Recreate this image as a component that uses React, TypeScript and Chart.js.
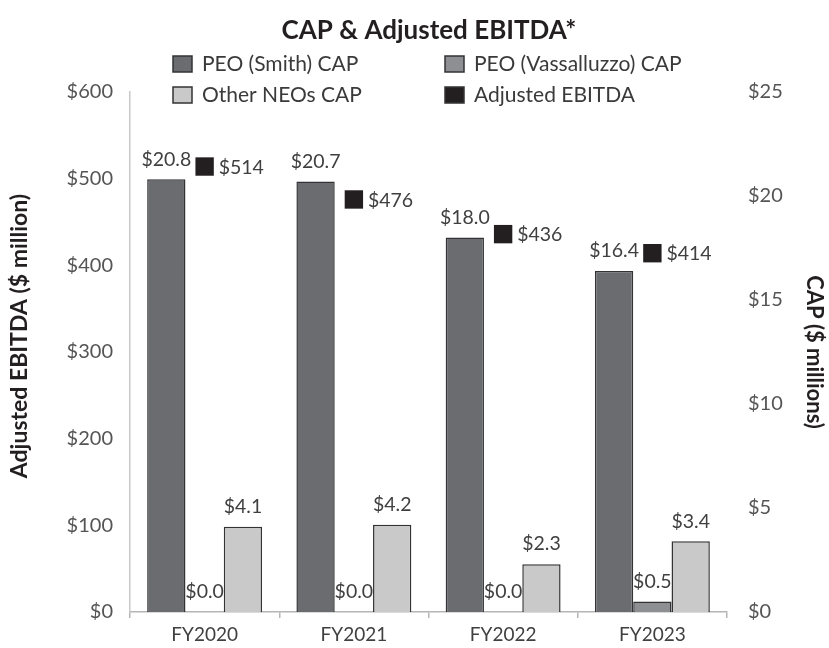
import React, { useEffect, useRef } from "react";
import { Chart, registerables } from "chart.js";

Chart.register(...registerables);

const FONT = "Lato, 'Open Sans', sans-serif";

const categories = ["FY2020", "FY2021", "FY2022", "FY2023"];
const smithCap = [20.8, 20.7, 18.0, 16.4];
const vassalluzzoCap = [0.0, 0.0, 0.0, 0.5];
const otherNeosCap = [4.1, 4.2, 2.3, 3.4];
const adjustedEbitda = [514, 476, 436, 414];

const chartTitle = "CAP & Adjusted EBITDA*";
const leftAxisTitle = "Adjusted EBITDA ($ million)";
const rightAxisTitle = "CAP ($ millions)";

const SMITH_COLOR = "#6b6c70";
const VASS_COLOR = "#8e8f92";
const OTHER_COLOR = "#c9c9ca";
const EBITDA_COLOR = "#231f20";
const BORDER = "#333335";

const legendItems = [
  { label: "PEO (Smith) CAP", color: SMITH_COLOR, col: 0, row: 0 },
  { label: "PEO (Vassalluzzo) CAP", color: VASS_COLOR, col: 1, row: 0 },
  { label: "Other NEOs CAP", color: OTHER_COLOR, col: 0, row: 1 },
  { label: "Adjusted EBITDA", color: EBITDA_COLOR, col: 1, row: 1 },
];

const headerPlugin = {
  id: "header",
  afterDraw(chart: any) {
    const ctx = chart.ctx;
    const area = chart.chartArea;
    ctx.save();
    ctx.fillStyle = "#231f20";
    ctx.font = `bold 26px ${FONT}`;
    ctx.textAlign = "center";
    ctx.textBaseline = "middle";
    ctx.fillText(chartTitle, 429, 31);

    // axis titles
    const midY = (area.top + area.bottom) / 2;
    ctx.font = `bold 23px ${FONT}`;
    ctx.save();
    ctx.translate(20, 336);
    ctx.rotate(-Math.PI / 2);
    ctx.fillText(leftAxisTitle, 0, 0);
    ctx.restore();
    ctx.font = `bold 22px ${FONT}`;
    ctx.save();
    ctx.translate(814, midY);
    ctx.rotate(Math.PI / 2);
    ctx.fillText(rightAxisTitle, 0, 0);
    ctx.restore();

    const colX = [173, 445];
    const rowY = [64, 95];
    ctx.font = `21px ${FONT}`;
    ctx.textAlign = "left";
    legendItems.forEach((it) => {
      const x = colX[it.col];
      const y = rowY[it.row];
      ctx.fillStyle = it.color;
      ctx.fillRect(x, y - 8, 19, 16);
      ctx.strokeStyle = BORDER;
      ctx.lineWidth = 1.5;
      ctx.strokeRect(x, y - 8, 19, 16);
      ctx.fillStyle = "#3a3a3a";
      ctx.fillText(it.label, x + 29, y);
    });
    ctx.restore();
  },
};

const labelPlugin = {
  id: "valueLabels",
  afterDatasetsDraw(chart: any) {
    const ctx = chart.ctx;
    ctx.save();
    ctx.font = `19.5px ${FONT}`;
    ctx.fillStyle = "#404040";
    ctx.textBaseline = "middle";
    chart.data.datasets.forEach((ds: any, i: number) => {
      const meta = chart.getDatasetMeta(i);
      meta.data.forEach((el: any, j: number) => {
        const v = ds.data[j];
        if (ds.type === "line") {
          ctx.textAlign = "left";
          ctx.fillText("$" + v, el.x + 14, el.y + 1);
        } else {
          ctx.textAlign = "center";
          ctx.fillText("$" + Number(v).toFixed(1), el.x, el.y - 20);
        }
      });
    });
    ctx.restore();
  },
};

export default function App() {
  const ref = useRef<HTMLCanvasElement | null>(null);
  useEffect(() => {
    if (!ref.current) return;
    const tickFont = { family: FONT, size: 20 };
    const chart = new Chart(ref.current, {
      type: "bar",
      data: {
        labels: categories,
        datasets: [
          {
            type: "line",
            label: "Adjusted EBITDA",
            data: adjustedEbitda,
            yAxisID: "y",
            showLine: false,
            pointStyle: "rect",
            pointRadius: 13,
            pointHoverRadius: 13,
            backgroundColor: EBITDA_COLOR,
            borderColor: EBITDA_COLOR,
            borderWidth: 0,
            order: 0,
          } as any,
          {
            type: "bar",
            label: "PEO (Smith) CAP",
            data: smithCap,
            yAxisID: "y1",
            backgroundColor: SMITH_COLOR,
            borderColor: BORDER,
            borderWidth: 1.5,
            categoryPercentage: 0.77,
            barPercentage: 1,
            order: 1,
          },
          {
            type: "bar",
            label: "PEO (Vassalluzzo) CAP",
            data: vassalluzzoCap,
            yAxisID: "y1",
            backgroundColor: VASS_COLOR,
            borderColor: BORDER,
            borderWidth: 1.5,
            categoryPercentage: 0.77,
            barPercentage: 1,
            order: 1,
          },
          {
            type: "bar",
            label: "Other NEOs CAP",
            data: otherNeosCap,
            yAxisID: "y1",
            backgroundColor: OTHER_COLOR,
            borderColor: BORDER,
            borderWidth: 1.5,
            categoryPercentage: 0.77,
            barPercentage: 1,
            order: 1,
          },
        ],
      },
      options: {
        animation: false,
        responsive: false,
        maintainAspectRatio: false,
        layout: { padding: { top: 92, left: 0, right: 0, bottom: 0 } },
        plugins: {
          legend: { display: false },
          title: { display: false },
          tooltip: { enabled: false },
        },
        scales: {
          x: {
            grid: {
              offset: true,
              drawOnChartArea: false,
              drawTicks: true,
              tickLength: 6,
              color: "#b5b5b5",
              lineWidth: 1.5,
            },
            border: { display: true, color: "#b5b5b5", width: 1.5 },
            ticks: { font: { family: FONT, size: 19 }, color: "#404040", padding: 5 },
            afterFit(s: any) {
              s.height = 36;
            },
          },
          y: {
            position: "left",
            min: 0,
            max: 600,
            grid: { display: false, drawTicks: false },
            border: { display: true, color: "#c8c8c8", width: 1.5 },
            ticks: {
              stepSize: 100,
              font: tickFont,
              color: "#555555",
              padding: 17,
              callback: (v: any) => "$" + v,
            },
            afterFit(s: any) {
              s.width = 130;
            },
          },
          y1: {
            position: "right",
            min: 0,
            max: 25,
            grid: { display: false, drawTicks: false },
            border: { display: false },
            ticks: {
              stepSize: 5,
              font: tickFont,
              color: "#555555",
              padding: 21,
              callback: (v: any) => "$" + v,
            },
            afterFit(s: any) {
              s.width = 102;
            },
          },
        },
      },
      plugins: [headerPlugin, labelPlugin],
    });
    return () => chart.destroy();
  }, []);
  return (
    <div style={{ position: "fixed", left: 0, top: 0, width: 829, height: 648, background: "#fff" }}>
      <canvas ref={ref} width={829} height={648} />
    </div>
  );
}
